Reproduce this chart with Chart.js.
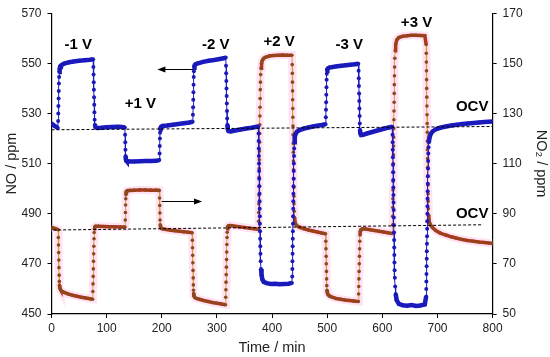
<!DOCTYPE html>
<html>
<head>
<meta charset="utf-8">
<script src="https://cdn.jsdelivr.net/npm/chart.js@4/dist/chart.umd.min.js"></script>
<style>
  html, body { margin: 0; padding: 0; background: #fff; }
  canvas { display: block; }
</style>
</head>
<body>
<canvas id="chart" width="550" height="357"></canvas>
<script>
// NO (left axis, ppm) - time in min
const noTime = [
  0, 3, 6, 9, 11.5,
  12, 12.3, 12.6, 12.9, 13.2, 13.5, 13.8, 14.2, 14.8, 15.6, 17, 19, 22, 26, 32, 40, 50, 60, 70, 75.5,
  76, 76.3, 76.6, 76.9, 77.2, 77.5, 77.8, 78.2, 78.8, 80, 83, 90, 100, 110, 120, 128, 133,
  133.5, 133.8, 134.1, 134.4, 134.8, 135.4, 136.5, 140, 150, 160, 170, 180, 190, 195.5,
  196, 196.3, 196.6, 196.9, 197.3, 197.8, 198.8, 201, 210, 220, 230, 240, 250, 256,
  256.5, 256.8, 257.1, 257.4, 257.7, 258, 258.3, 258.7, 259.3, 260.5, 263, 267, 275, 285, 295, 305, 312, 316,
  316.5, 316.8, 317.1, 317.4, 317.7, 318, 318.3, 318.6, 319, 319.6, 321, 325, 333, 343, 353, 363, 370, 375,
  375.6, 375.8, 376, 376.2, 376.4, 376.6, 376.8, 377, 377.2, 377.4, 377.6, 377.8, 378, 378.2, 378.4, 378.7, 379, 379.4, 380, 381, 382.5, 385, 390, 398, 406, 414, 422, 430, 436,
  436.6, 436.8, 437, 437.2, 437.4, 437.6, 437.8, 438, 438.2, 438.4, 438.6, 438.8, 439, 439.2, 439.4, 439.6, 439.8, 440.1, 440.5, 441.2, 442.5, 445, 450, 458, 466, 474, 482, 490, 497,
  497.5, 497.8, 498.1, 498.4, 498.7, 499, 499.3, 499.7, 500.3, 501.5, 504, 510, 518, 526, 534, 542, 550, 556.5,
  557, 557.3, 557.6, 557.9, 558.2, 558.5, 558.8, 559.1, 559.5, 560.2, 561.5, 565, 572, 580, 588, 596, 604, 612, 618,
  618.6, 618.8, 619, 619.2, 619.4, 619.6, 619.8, 620, 620.2, 620.4, 620.6, 620.8, 621, 621.2, 621.4, 621.6, 621.8, 622, 622.3, 622.7, 623.3, 624.2, 626, 630, 637, 645, 653, 661, 669, 677,
  679.5, 679.7, 679.9, 680.1, 680.3, 680.5, 680.7, 680.9, 681.1, 681.3, 681.5, 681.7, 681.9, 682.1, 682.3, 682.5, 682.7, 682.9, 683.1, 683.4, 683.8, 684.4, 685.5, 687.5, 691, 697, 705, 715, 725, 735, 745, 755, 765, 775, 785, 793, 800
];
const noValue = [
  526, 525.4, 525, 524.6, 524.2,
  527, 530, 533, 536, 539, 542, 544.5, 546.5, 547.8, 548.5, 549, 549.4, 549.8, 550.1, 550.4, 550.7, 551, 551.2, 551.4, 551.6,
  548.5, 545.5, 542.5, 539.5, 536.5, 533.5, 530.5, 527.5, 525.5, 524.5, 524.2, 524.3, 524.5, 524.6, 524.7, 524.6, 524.4,
  521.5, 518.5, 515.5, 513, 511.8, 511.3, 511, 510.9, 510.8, 510.9, 511, 511, 511.1, 511.4,
  514, 517, 520, 522.3, 523.6, 524.3, 524.7, 525, 525.2, 525.5, 525.8, 526.1, 526.4, 526.7,
  529.5, 532.5, 535.5, 538.5, 541.5, 544.5, 546.8, 548.2, 549, 549.5, 549.8, 550.1, 550.6, 551, 551.3, 551.7, 552, 552.3,
  549, 546, 543, 540, 537, 534, 531, 528, 525.5, 523.8, 523, 522.8, 523.2, 523.6, 524, 524.3, 524.6, 524.8,
  522, 519, 516, 513, 510, 507, 504, 501, 498, 495, 492, 489, 486, 483, 480, 477, 474, 471, 468, 465.5, 463.8, 462.8, 462.3, 462, 462.1, 461.9, 462, 462.1, 462.4,
  465, 468, 471, 474, 477, 480, 483, 486, 489, 492, 495, 498, 501, 504, 507, 510, 513, 516, 518.5, 520.5, 521.8, 522.7, 523.4, 524, 524.4, 524.8, 525.1, 525.4, 525.7,
  528.5, 531.5, 534.5, 537.5, 540.5, 543.5, 545.8, 547, 547.6, 548, 548.3, 548.5, 548.8, 549, 549.2, 549.4, 549.6, 549.8,
  547, 544, 541, 538, 535, 532, 529, 526, 523.5, 522, 521.4, 521.5, 522, 522.5, 523, 523.5, 524, 524.4, 524.7,
  521.5, 518.5, 515.5, 512.5, 509.5, 506.5, 503.5, 500.5, 497.5, 494.5, 491.5, 488.5, 485.5, 482.5, 479.5, 476.5, 473.5, 470.5, 467.5, 464.5, 461, 458, 455.5, 454, 453.5, 453.3, 453.6, 453.2, 453.4, 453.8,
  457, 460, 463, 466, 469, 472, 475, 478, 481, 484, 487, 490, 493, 496, 499, 502, 505, 508, 511, 514, 516.5, 518.5, 520.3, 521.7, 522.8, 523.7, 524.3, 524.8, 525.2, 525.5, 525.8, 526, 526.2, 526.4, 526.6, 526.7, 526.8
];

// NO2 (right axis, ppm)
const no2Time = [
  0, 3, 6, 9, 12,
  12.4, 12.7, 13, 13.3, 13.6, 13.9, 14.2, 14.5, 15, 15.8, 17, 19, 23, 30, 38, 46, 54, 62, 70, 74.5,
  75, 75.3, 75.6, 75.9, 76.2, 76.5, 76.8, 77.1, 77.4, 77.8, 78.5, 80, 85, 95, 105, 115, 125, 133.3,
  133.8, 134.1, 134.4, 134.7, 135, 135.4, 136, 137.5, 142, 150, 160, 170, 180, 190, 195.5,
  196, 196.3, 196.6, 196.9, 197.3, 197.8, 198.8, 201, 208, 216, 224, 232, 240, 248, 255,
  255.5, 255.8, 256.1, 256.4, 256.7, 257, 257.3, 257.6, 257.9, 258.3, 259, 260.5, 263, 268, 276, 284, 292, 300, 308, 315.5,
  316, 316.3, 316.6, 316.9, 317.2, 317.5, 317.8, 318.1, 318.4, 318.7, 319.1, 319.7, 321, 324, 330, 340, 350, 360, 368, 375,
  375.6, 375.8, 376, 376.2, 376.4, 376.6, 376.8, 377, 377.2, 377.4, 377.6, 377.8, 378, 378.2, 378.4, 378.7, 379, 379.4, 380, 381, 382.5, 385, 389, 395, 403, 411, 419, 427, 436,
  436.6, 436.8, 437, 437.2, 437.4, 437.6, 437.8, 438, 438.2, 438.4, 438.6, 438.8, 439, 439.2, 439.4, 439.6, 439.8, 440.1, 440.5, 441.2, 442.5, 445, 450, 458, 466, 474, 482, 490, 497,
  497.5, 497.8, 498.1, 498.4, 498.7, 499, 499.3, 499.7, 500.3, 501.5, 504, 509, 516, 524, 532, 540, 548, 556.5,
  557, 557.3, 557.6, 557.9, 558.2, 558.5, 558.8, 559.1, 559.5, 560.2, 561.5, 564, 570, 578, 586, 594, 602, 610, 618,
  618.6, 618.8, 619, 619.2, 619.4, 619.6, 619.8, 620, 620.2, 620.4, 620.6, 620.8, 621, 621.2, 621.4, 621.6, 621.8, 622, 622.3, 622.7, 623.3, 624.2, 626, 630, 637, 645, 653, 661, 669, 677,
  679.5, 679.7, 679.9, 680.1, 680.3, 680.5, 680.7, 680.9, 681.1, 681.3, 681.5, 681.7, 681.9, 682.1, 682.3, 682.5, 682.7, 682.9, 683.1, 683.4, 683.8, 684.4, 685.5, 687.5, 691, 697, 705, 715, 725, 735, 745, 755, 765, 775, 785, 793, 800
];
const no2Value = [
  84.5, 84.3, 84.1, 83.9, 83.6,
  80.5, 77.5, 74.5, 71.5, 68.5, 65.5, 63, 61.5, 60.6, 60, 59.5, 59.1, 58.6, 58, 57.5, 57.1, 56.7, 56.4, 56.1, 55.9,
  59, 62, 65, 68, 71, 74, 77, 80, 82.5, 84, 84.7, 85, 85, 84.9, 84.8, 84.8, 84.7, 84.7,
  87.5, 90.5, 93.5, 96, 97.6, 98.4, 98.9, 99.2, 99.3, 99.4, 99.5, 99.5, 99.4, 99.4, 99.3,
  96.3, 93.3, 90.3, 87.5, 85.6, 84.8, 84.3, 84, 83.7, 83.4, 83.2, 83, 82.8, 82.6, 82.4,
  79.4, 76.4, 73.4, 70.4, 67.4, 64.4, 61.6, 59.5, 58.2, 57.4, 56.9, 56.5, 56.2, 55.9, 55.4, 55, 54.6, 54.3, 54, 53.7,
  56.7, 59.7, 62.7, 65.7, 68.7, 71.7, 74.7, 77.7, 80.5, 82.6, 84, 84.8, 85.2, 85.3, 85.1, 84.8, 84.5, 84.2, 84, 83.8,
  87, 90.5, 94, 97.5, 101, 104.5, 108, 111.5, 115, 118.5, 122, 125.5, 129, 132.5, 136, 139.5, 142.5, 145.5, 148, 150, 151.2, 152, 152.5, 152.9, 153.1, 153.2, 153.3, 153.2, 153.2,
  149.5, 146, 142.5, 139, 135.5, 132, 128.5, 125, 121.5, 118, 114.5, 111, 107.5, 104, 100.5, 97, 94, 91, 88.5, 87, 86, 85.2, 84.6, 84, 83.5, 83.1, 82.7, 82.3, 82,
  79, 76, 73, 70, 67, 64, 61.3, 59.5, 58.5, 57.8, 57.2, 56.7, 56.2, 55.9, 55.6, 55.4, 55.2, 55,
  58, 61, 64, 67, 70, 73, 76, 79, 81.5, 83, 83.7, 84, 83.9, 83.6, 83.3, 83, 82.7, 82.4, 82.1,
  85.5, 89, 92.5, 96, 99.5, 103, 106.5, 110, 113.5, 117, 120.5, 124, 127.5, 131, 134.5, 138, 141.5, 145, 148.5, 152, 155, 157.5, 159.3, 160.3, 160.8, 161, 161.2, 161.2, 161.1, 161,
  157.5, 154, 150.5, 147, 143.5, 140, 136.5, 133, 129.5, 126, 122.5, 119, 115.5, 112, 108.5, 105, 101.5, 98, 95, 92, 89.5, 87.8, 86.5, 85.5, 84.5, 83.3, 82.3, 81.5, 80.8, 80.2, 79.7, 79.3, 79, 78.7, 78.5, 78.3, 78.2
];

// dashed OCV baselines (left axis units)
const ocvTopTime = [0, 800];
const ocvTopValue = [523.5, 524.8];
const ocvLowTime = [3, 782];
const ocvLowValue = [483.5, 485.6];

const xTicks = [0, 100, 200, 300, 400, 500, 600, 700, 800];
const leftTicks = [450, 470, 490, 510, 530, 550, 570];
const rightTicks = [50, 70, 90, 110, 130, 150, 170];

// text labels (placed in left-axis data units)
const labels = [
  { text: '-1 V', t: 48.6, v: 557.5 },
  { text: '+1 V', t: 161.4, v: 534 },
  { text: '-2 V', t: 298, v: 557.5 },
  { text: '+2 V', t: 413, v: 558.4 },
  { text: '-3 V', t: 540, v: 557.5 },
  { text: '+3 V', t: 662, v: 566 },
  { text: 'OCV', t: 763, v: 532.6 },
  { text: 'OCV', t: 763, v: 490.1 }
];
// arrows: from -> to (head at "to")
const arrows = [
  { from: 257, to: 192, v: 547.6 },
  { from: 200, to: 273, v: 495.1 }
];

const zip = (xs, ys) => xs.map((x, i) => ({ x, y: ys[i] }));
const noPts = zip(noTime, noValue);
const no2Pts = zip(no2Time, no2Value);

function steep(ctx) {
  const a = ctx.p0.parsed, b = ctx.p1.parsed;
  const dx = Math.abs(b.x - a.x) || 1e-6;
  return Math.abs(b.y - a.y) / dx > 3;
}

const annotate = {
  id: 'annotate',
  afterDatasetsDraw(chart) {
    const { ctx, scales } = chart;
    const x = scales.x, y = scales.y;
    ctx.save();
    ctx.fillStyle = '#000';
    ctx.strokeStyle = '#000';
    ctx.font = 'bold 15px "Liberation Sans", Arial, sans-serif';
    ctx.textAlign = 'center';
    ctx.textBaseline = 'middle';
    labels.forEach(l => ctx.fillText(l.text, x.getPixelForValue(l.t), y.getPixelForValue(l.v)));
    ctx.lineWidth = 1;
    arrows.forEach(a => {
      const x1 = x.getPixelForValue(a.from), x2 = x.getPixelForValue(a.to);
      const py = Math.round(y.getPixelForValue(a.v)) + 0.5;
      const dir = Math.sign(x2 - x1);
      ctx.beginPath();
      ctx.moveTo(x1, py);
      ctx.lineTo(x2 - dir * 6, py);
      ctx.stroke();
      ctx.beginPath();
      ctx.moveTo(x2, py);
      ctx.lineTo(x2 - dir * 8, py - 3);
      ctx.lineTo(x2 - dir * 8, py + 3);
      ctx.closePath();
      ctx.fill();
    });
    ctx.restore();
  }
};

const tickFont = { family: '"Liberation Sans", Arial, sans-serif', size: 12 };
const titleFont = { family: '"Liberation Sans", Arial, sans-serif', size: 14.5 };

new Chart(document.getElementById('chart').getContext('2d'), {
  type: 'line',
  data: {
    datasets: [
      {
        data: zip(ocvTopTime, ocvTopValue), yAxisID: 'y', order: 0,
        borderColor: '#000', borderWidth: 1, borderDash: [3, 2], pointRadius: 0
      },
      {
        data: zip(ocvLowTime, ocvLowValue), yAxisID: 'y', order: 0,
        borderColor: '#000', borderWidth: 1, borderDash: [3, 2], pointRadius: 0
      },
      {
        data: noPts, yAxisID: 'y', order: 1,
        borderColor: '#1c1cc4', borderWidth: 1,
        segment: { borderWidth: c => steep(c) ? 1 : 4.5 },
        pointRadius: 2, pointBackgroundColor: '#1a1ab8', pointBorderWidth: 0
      },
      {
        data: no2Pts, yAxisID: 'y2', order: 2,
        borderColor: '#b8321a', borderWidth: 1,
        segment: {
          borderWidth: c => steep(c) ? 1 : 3.5,
          borderColor: c => steep(c) ? '#d4a04a' : '#b8321a'
        },
        pointRadius: 1.8, pointBackgroundColor: '#8a4a1c', pointBorderWidth: 0
      },
      {
        data: no2Pts, yAxisID: 'y2', order: 3,
        borderColor: 'rgba(255, 190, 230, 0.45)', borderWidth: 8, pointRadius: 0
      }
    ]
  },
  options: {
    responsive: false,
    animation: false,
    events: [],
    layout: { padding: { top: 8, left: 0, right: 0, bottom: 0 } },
    plugins: { legend: { display: false }, tooltip: { enabled: false } },
    scales: {
      x: {
        type: 'linear', min: 0, max: 800,
        afterBuildTicks: s => { s.ticks = xTicks.map(v => ({ value: v })); },
        afterFit: s => { s.height = 43; },
        ticks: { color: '#222', font: tickFont, padding: 3, maxRotation: 0 },
        grid: { drawOnChartArea: false, drawTicks: true, tickLength: 4, color: '#000' },
        border: { color: '#000', width: 1.2 },
        title: { display: true, text: 'Time / min', color: '#222', font: titleFont, padding: { top: 0, bottom: 0 } }
      },
      y: {
        position: 'left', min: 450, max: 570,
        afterBuildTicks: s => { s.ticks = leftTicks.map(v => ({ value: v })); },
        afterFit: s => { s.width = 51.5; },
        ticks: { color: '#222', font: tickFont, padding: 6 },
        grid: { drawOnChartArea: false, drawTicks: true, tickLength: 4, color: '#000' },
        border: { color: '#000', width: 1.2 },
        title: { display: true, text: 'NO / ppm', color: '#222', font: titleFont, padding: { top: 3, bottom: 0 } }
      },
      y2: {
        position: 'right', min: 50, max: 170,
        afterBuildTicks: s => { s.ticks = rightTicks.map(v => ({ value: v })); },
        afterFit: s => { s.width = 57.4; },
        ticks: { color: '#222', font: tickFont, padding: 6 },
        grid: { drawOnChartArea: false, drawTicks: true, tickLength: 4, color: '#000' },
        border: { color: '#000', width: 1.2 },
        title: { display: true, text: 'NO₂ / ppm', color: '#222', font: titleFont, padding: { top: 0, bottom: 0 } }
      }
    }
  },
  plugins: [annotate]
});
</script>
</body>
</html>
